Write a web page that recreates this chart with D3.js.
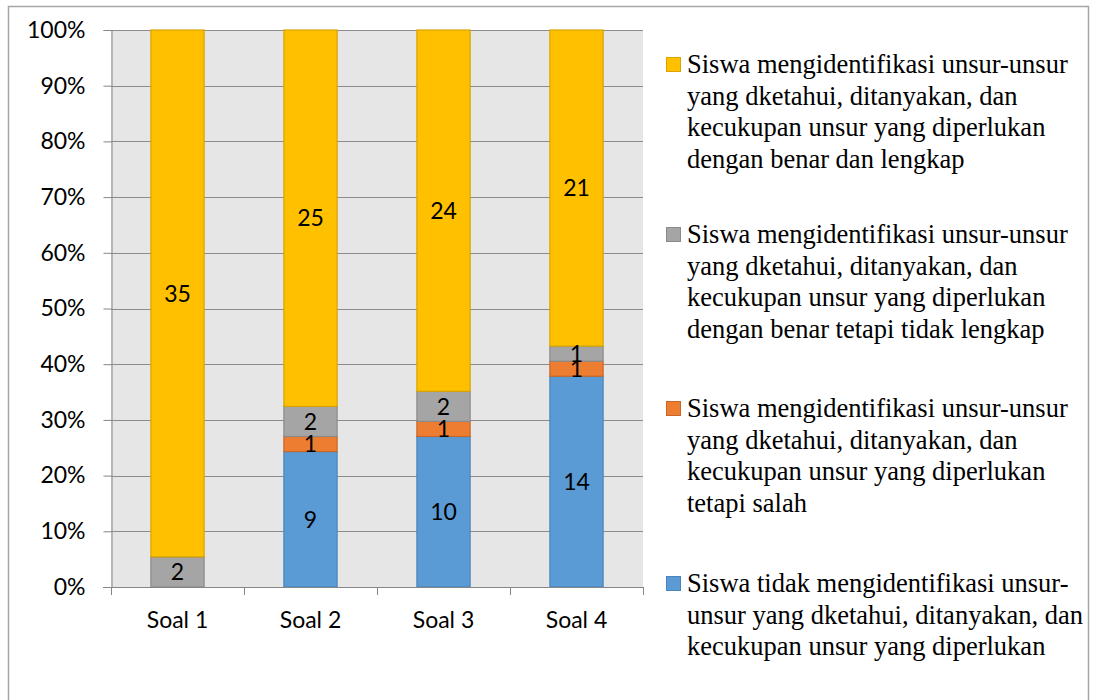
<!DOCTYPE html>
<html>
<head>
<meta charset="utf-8">
<script src="https://cdn.jsdelivr.net/npm/d3@7"></script>
<style>
  body { margin: 0; background: #fff; }
  svg { display: block; }
</style>
</head>
<body>
<div id="chart"></div>
<script>
// data
var categories = ["Soal 1", "Soal 2", "Soal 3", "Soal 4"];
var tidakIdentifikasi = [0, 9, 10, 14];
var salah = [0, 1, 1, 1];
var tidakLengkap = [2, 2, 2, 1];
var lengkap = [35, 25, 24, 21];
var yTicks = [0, 0.1, 0.2, 0.3, 0.4, 0.5, 0.6, 0.7, 0.8, 0.9, 1];

var seriesKeys = ["tidak", "salah", "tidakLengkap", "lengkap"];
var fills = { tidak: "#5b9bd5", salah: "#ed7d31", tidakLengkap: "#a5a5a5", lengkap: "#ffc000" };
var strokes = { tidak: "#4a84bb", salah: "#c8672a", tidakLengkap: "#8a8a8a", lengkap: "#d9a300" };

var legendLines = {
  lengkap: ["Siswa mengidentifikasi unsur-unsur", "yang dketahui, ditanyakan, dan", "kecukupan unsur yang diperlukan", "dengan benar dan lengkap"],
  tidakLengkap: ["Siswa mengidentifikasi unsur-unsur", "yang dketahui, ditanyakan, dan", "kecukupan unsur yang diperlukan", "dengan benar tetapi tidak lengkap"],
  salah: ["Siswa mengidentifikasi unsur-unsur", "yang dketahui, ditanyakan, dan", "kecukupan unsur yang diperlukan", "tetapi salah"],
  tidak: ["Siswa tidak mengidentifikasi unsur-", "unsur yang dketahui, ditanyakan, dan", "kecukupan unsur yang diperlukan"]
};
var legendOrder = ["lengkap", "tidakLengkap", "salah", "tidak"];

var rows = categories.map(function (c, i) {
  return { cat: c, tidak: tidakIdentifikasi[i], salah: salah[i], tidakLengkap: tidakLengkap[i], lengkap: lengkap[i] };
});

var width = 1093, height = 700;
var plot = { left: 111, right: 643, top: 30, bottom: 587 };

var svg = d3.select("#chart").append("svg")
  .attr("width", width)
  .attr("height", height);

// outer frame
svg.append("rect")
  .attr("x", 8.5).attr("y", 6.5)
  .attr("width", 1080).attr("height", 720)
  .attr("fill", "#fff")
  .attr("stroke", "#a6a6a6")
  .attr("stroke-width", 1.5);

var xScale = d3.scaleBand()
  .domain(categories)
  .range([plot.left, plot.right])
  .paddingInner(0.6)
  .paddingOuter(0.3);

var yScale = d3.scaleLinear()
  .domain([0, 1])
  .range([plot.bottom, plot.top]);

// plot background
svg.append("rect")
  .attr("x", plot.left).attr("y", plot.top)
  .attr("width", plot.right - plot.left)
  .attr("height", plot.bottom - plot.top)
  .attr("fill", "#e6e6e6");

// gridlines
svg.append("g")
  .selectAll("line")
  .data(yTicks)
  .join("line")
  .attr("x1", plot.left).attr("x2", plot.right)
  .attr("y1", function (d) { return Math.round(yScale(d)) + 0.5; })
  .attr("y2", function (d) { return Math.round(yScale(d)) + 0.5; })
  .attr("stroke", "#8c8c8c")
  .attr("stroke-width", 1);

// stacked bars
var stack = d3.stack().keys(seriesKeys).offset(d3.stackOffsetExpand);
var series = stack(rows);

var groups = svg.append("g")
  .selectAll("g")
  .data(series)
  .join("g")
  .attr("fill", function (s) { return fills[s.key]; })
  .attr("stroke", function (s) { return strokes[s.key]; });

groups.selectAll("rect")
  .data(function (s) { return s.filter(function (d) { return d[1] > d[0]; }); })
  .join("rect")
  .attr("x", function (d) { return xScale(d.data.cat); })
  .attr("y", function (d) { return yScale(d[1]); })
  .attr("width", xScale.bandwidth())
  .attr("height", function (d) { return yScale(d[0]) - yScale(d[1]); })
  .attr("stroke-width", 1.2);

// data labels
var labelG = svg.append("g")
  .attr("font-family", "Lato, 'Open Sans', sans-serif")
  .attr("font-size", 23)
  .attr("fill", "#000")
  .attr("text-anchor", "middle");

series.forEach(function (s) {
  s.forEach(function (d) {
    var v = d.data[s.key];
    if (!v) return;
    labelG.append("text")
      .attr("x", xScale(d.data.cat) + xScale.bandwidth() / 2)
      .attr("y", yScale((d[0] + d[1]) / 2))
      .attr("dy", "0.36em")
      .text(v);
  });
});

// y axis
var yAxis = d3.axisLeft(yScale)
  .tickValues(yTicks)
  .tickFormat(d3.format(".0%"))
  .tickSize(8)
  .tickPadding(18);

var gy = svg.append("g")
  .attr("transform", "translate(" + (plot.left + 0.5) + ",0)")
  .call(yAxis);
gy.select(".domain").attr("stroke", "#868686");
gy.selectAll(".tick line").attr("stroke", "#868686");
gy.selectAll(".tick text")
  .attr("font-family", "Lato, 'Open Sans', sans-serif")
  .attr("font-size", 23)
  .attr("fill", "#000");

// x axis
var xAxis = d3.axisBottom(xScale)
  .tickSize(0)
  .tickPadding(24);

var gx = svg.append("g")
  .attr("transform", "translate(0," + (plot.bottom + 0.5) + ")")
  .call(xAxis);
gx.select(".domain").remove();
gx.selectAll(".tick text")
  .attr("font-family", "Lato, 'Open Sans', sans-serif")
  .attr("font-size", 23)
  .attr("fill", "#000");

svg.append("line")
  .attr("x1", plot.left - 8).attr("x2", plot.right)
  .attr("y1", plot.bottom + 0.5).attr("y2", plot.bottom + 0.5)
  .attr("stroke", "#868686");

// category separator ticks
var sepPos = categories.map(function (c) { return xScale(c) - xScale.step() * xScale.paddingInner() / 2; });
sepPos.push(plot.right);
svg.append("g")
  .selectAll("line")
  .data(sepPos)
  .join("line")
  .attr("x1", function (d) { return Math.round(d) + 0.5; })
  .attr("x2", function (d) { return Math.round(d) + 0.5; })
  .attr("y1", plot.bottom)
  .attr("y2", plot.bottom + 8)
  .attr("stroke", "#868686");

// legend
var legendBaselines = [73, 243, 417, 592];
var legendLineH = 31.5;
var legend = svg.append("g")
  .attr("font-family", "'Liberation Serif', 'Times New Roman', serif")
  .attr("font-size", 26.5)
  .attr("fill", "#000");

legendOrder.forEach(function (key, i) {
  var base = legendBaselines[i];
  legend.append("rect")
    .attr("x", 666.5).attr("y", base - 15.5)
    .attr("width", 14).attr("height", 14)
    .attr("fill", fills[key])
    .attr("stroke", strokes[key])
    .attr("stroke-width", 1);
  legend.append("text")
    .selectAll("tspan")
    .data(legendLines[key])
    .join("tspan")
    .attr("x", 687)
    .attr("y", function (d, j) { return base + j * legendLineH; })
    .text(function (d) { return d; });
});
</script>
</body>
</html>
